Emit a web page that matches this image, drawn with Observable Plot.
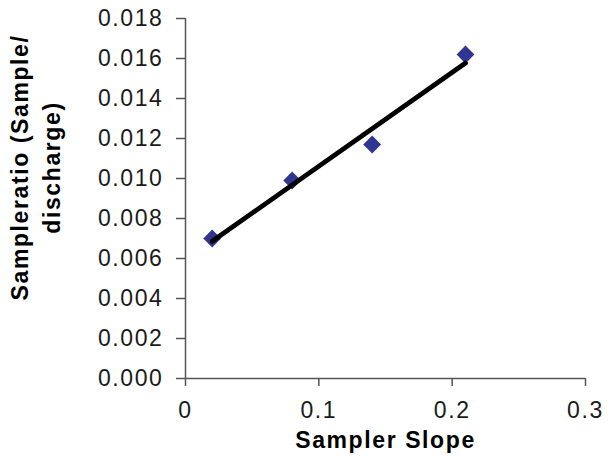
<!DOCTYPE html>
<html>
<head>
<meta charset="utf-8">
<script src="https://cdn.jsdelivr.net/npm/d3@7"></script>
<script src="https://cdn.jsdelivr.net/npm/@observablehq/plot@0.6"></script>
<style>
  html, body { margin: 0; padding: 0; background: #fff; }
  #chart svg text { letter-spacing: 1.6px; }
</style>
</head>
<body>
<div id="chart"></div>
<script>
// Data
const samplerSlope = [0.02, 0.08, 0.14, 0.21];
const sampleRatio = [0.0070, 0.0099, 0.0117, 0.0162];
const xTicks = [0, 0.1, 0.2, 0.3];
const yTicks = [0, 0.002, 0.004, 0.006, 0.008, 0.010, 0.012, 0.014, 0.016, 0.018];
const xTitle = "Sampler Slope";
const yTitle = "Sampleratio (Sample/\ndischarge)";

const data = samplerSlope.map((s, i) => ({slope: s, ratio: sampleRatio[i]}));

const chart = Plot.plot({
  width: 610,
  height: 460,
  marginLeft: 185,
  marginRight: 25,
  marginTop: 18,
  marginBottom: 82,
  style: {fontFamily: "'Liberation Sans', Arial, sans-serif", fontSize: "23px", background: "#fff", color: "#1a1a1a"},
  x: {domain: [0, 0.3]},
  y: {domain: [0, 0.018]},
  marks: [
    Plot.axisY({ticks: yTicks, tickSize: 9, tickPadding: 13, tickFormat: d3.format(".3f"),
      stroke: "#555", strokeWidth: 1.5, fill: "#1a1a1a", label: null}),
    Plot.axisX({ticks: xTicks, tickSize: 8, tickPadding: 15, tickFormat: d => String(d),
      stroke: "#555", strokeWidth: 1.5, fill: "#1a1a1a", label: null}),
    Plot.ruleX([0], {stroke: "#555", strokeWidth: 1.5}),
    Plot.ruleY([0], {stroke: "#555", strokeWidth: 1.5}),
    Plot.dot(data, {x: "slope", y: "ratio", symbol: "diamond2", r: 8, fill: "#2f3590", stroke: "none"}),
    Plot.linearRegressionY(data, {x: "slope", y: "ratio", stroke: "#000", strokeWidth: 4.8, ci: 0}),
    Plot.text([xTitle], {frameAnchor: "bottom", dy: 62, lineAnchor: "middle", fontWeight: "bold", fill: "#000", fontSize: 23}),
    Plot.text([yTitle], {frameAnchor: "left", textAnchor: "middle", dx: -152, dy: -31, rotate: -90, lineAnchor: "middle", lineHeight: 1.43,
      fontWeight: "bold", fill: "#000", fontSize: 23})
  ]
});
document.getElementById("chart").appendChild(chart);
</script>
</body>
</html>
